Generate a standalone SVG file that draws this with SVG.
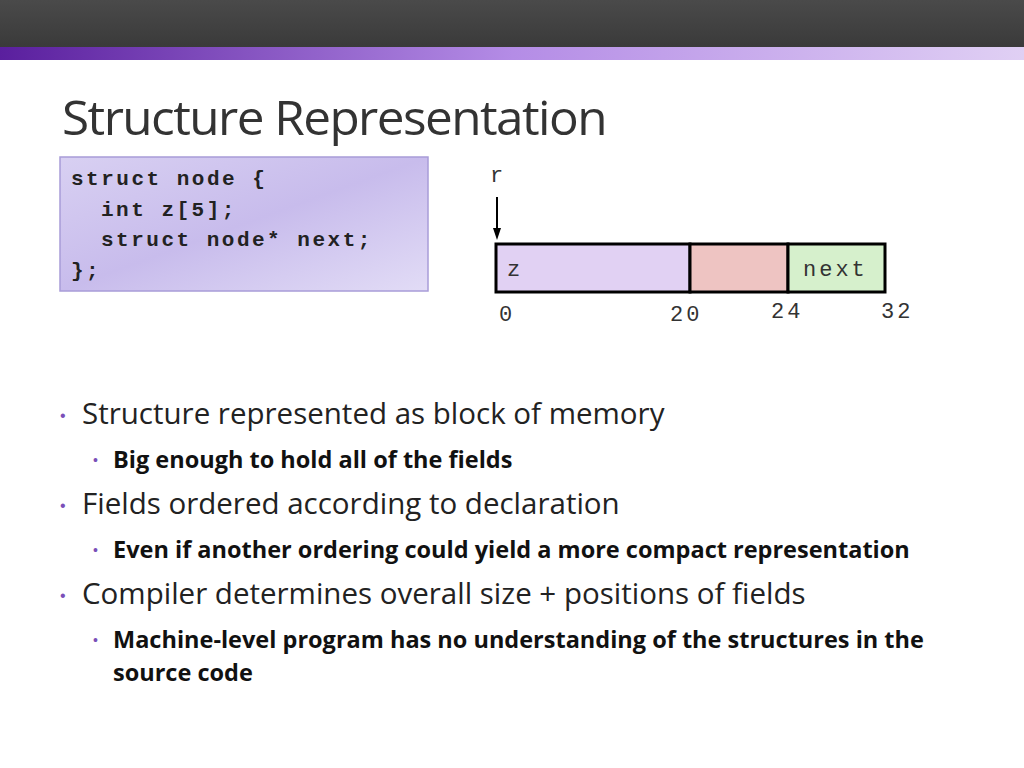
<svg xmlns="http://www.w3.org/2000/svg" width="1024" height="768" viewBox="0 0 1024 768">
<defs>
<linearGradient id="top" x1="0" y1="0" x2="0" y2="1"><stop offset="0" stop-color="#4a4a4a"/><stop offset="1" stop-color="#3a3a3a"/></linearGradient>
<linearGradient id="bar" x1="0" y1="0" x2="1" y2="0"><stop offset="0" stop-color="#5a1f9e"/><stop offset="0.5" stop-color="#b48ce6"/><stop offset="1" stop-color="#e0d0f4"/></linearGradient>
<linearGradient id="code" x1="0" y1="0" x2="1" y2="1"><stop offset="0" stop-color="#d8d0f2"/><stop offset="0.5" stop-color="#c8bcec"/><stop offset="1" stop-color="#e2dcf6"/></linearGradient>
</defs>
<style>
.code{font-family:"Liberation Mono",monospace;font-weight:bold;font-size:21px;fill:#222;letter-spacing:2.5px;}
.lab{font-family:"Liberation Mono",monospace;font-size:22px;fill:#333;letter-spacing:3px;}
.b1{font-family:"Open Sans","Noto Sans",sans-serif;font-size:29.5px;fill:#222;}
.b2{font-family:"Open Sans","Noto Sans",sans-serif;font-size:23.5px;font-weight:bold;fill:#111;}
.dot{fill:#7a4fb8;font-family:"Liberation Sans",sans-serif;}
</style>
<rect x="0" y="0" width="1024" height="47" fill="url(#top)"/>
<rect x="0" y="47" width="1024" height="13" fill="url(#bar)"/>
<text x="62" y="135" font-family="Open Sans, Noto Sans, sans-serif" font-size="48" fill="#333" letter-spacing="-1.5" textLength="544" lengthAdjust="spacingAndGlyphs">Structure Representation</text>
<g id="code-box">
<rect x="60" y="157" width="368" height="134" fill="url(#code)" stroke="#a89cd8" stroke-width="1.5"/>
<text class="code" x="71" y="185">struct node {</text>
<text class="code" x="101" y="216">int z[5];</text>
<text class="code" x="101" y="246">struct node* next;</text>
<text class="code" x="71" y="277">};</text>
</g>
<g id="memory">
<rect x="496" y="244" width="194" height="48" fill="#e1d1f3" stroke="#000" stroke-width="3"/>
<rect x="690" y="244" width="98" height="48" fill="#eec4c2" stroke="#000" stroke-width="3"/>
<rect x="788" y="244" width="97" height="48" fill="#d6f0cc" stroke="#000" stroke-width="3"/>
<text class="lab" x="507" y="276">z</text>
<text class="lab" x="803" y="276">next</text>
<text class="lab" x="490" y="182" font-size="19">r</text>
<text class="lab" x="499" y="321">0</text>
<text class="lab" x="670" y="321">20</text>
<text class="lab" x="771" y="318">24</text>
<text class="lab" x="881" y="318">32</text>
</g>
<g id="connectors">
<line x1="497" y1="197" x2="497" y2="230" stroke="#000" stroke-width="2"/>
<path d="M493,228 L501,228 L497,240 Z" fill="#000"/>
</g>
<g id="bullets">
<text class="dot" x="60" y="421" font-size="16">•</text>
<text class="b1" x="82" y="424">Structure represented as block of memory</text>
<text class="dot" x="93" y="465" font-size="14">•</text>
<text class="b2" x="113" y="468">Big enough to hold all of the fields</text>
<text class="dot" x="60" y="511" font-size="16">•</text>
<text class="b1" x="82" y="514">Fields ordered according to declaration</text>
<text class="dot" x="93" y="555" font-size="14">•</text>
<text class="b2" x="113" y="558">Even if another ordering could yield a more compact representation</text>
<text class="dot" x="60" y="601" font-size="16">•</text>
<text class="b1" x="82" y="604">Compiler determines overall size + positions of fields</text>
<text class="dot" x="93" y="645" font-size="14">•</text>
<text class="b2" x="113" y="648">Machine-level program has no understanding of the structures in the</text>
<text class="b2" x="113" y="681">source code</text>
</g>
</svg>
